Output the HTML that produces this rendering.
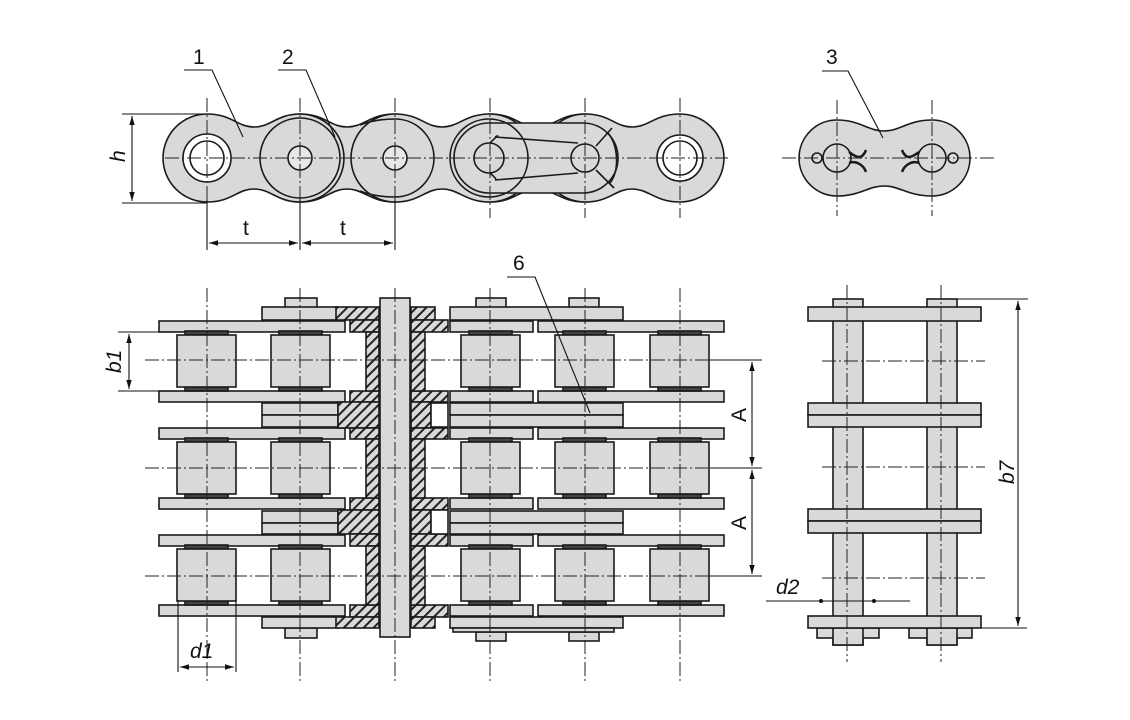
<!DOCTYPE html>
<html><head><meta charset="utf-8"><style>
html,body{margin:0;padding:0;background:#fff;width:1130px;height:720px;overflow:hidden}
svg{display:block}
text{font-family:"Liberation Sans",sans-serif;fill:#111}
</style></head><body>
<svg width="1130" height="720" viewBox="0 0 1130 720" xmlns="http://www.w3.org/2000/svg">
<defs>
<pattern id="h" width="7" height="7" patternUnits="userSpaceOnUse" patternTransform="rotate(45)">
<rect width="7" height="7" fill="#d9d9d9"/><rect width="2" height="7" fill="#222"/></pattern>
<marker id="ar" viewBox="0 0 10 10" refX="10" refY="5" markerWidth="9" markerHeight="9" orient="auto-start-reverse" markerUnits="userSpaceOnUse"><path d="M0,2 L10,5 L0,8 Z" fill="#111"/></marker>
</defs>
<g stroke="#1a1a1a" stroke-width="1.6" fill="#d9d9d9">
<!-- TOP VIEW LINKS -->
<path d="M300,114 C325,114 330,127 347,127 C364,127 370,114 395,114 A44,44 0 0 1 395,202 C370,202 364,189 347,189 C330,189 325,202 300,202 A44,44 0 0 1 300,114 Z"/>
<path d="M490,114 C515,114 520,127 537,127 C554,127 560,114 585,114 A44,44 0 0 1 585,202 C560,202 554,189 537,189 C520,189 515,202 490,202 A44,44 0 0 1 490,114 Z"/>
<path d="M207,114 C232,114 237,127 254,127 C271,127 277,114 300,114 A44,44 0 0 1 300,202 C277,202 271,189 254,189 C237,189 232,202 207,202 A44,44 0 0 1 207,114 Z"/>
<path d="M395,114 C420,114 425,127 442,127 C459,127 465,114 490,114 A44,44 0 0 1 490,202 C465,202 459,189 442,189 C425,189 420,202 395,202 A44,44 0 0 1 395,114 Z"/>
<path d="M585,114 C610,114 615,127 632,127 C649,127 655,114 680,114 A44,44 0 0 1 680,202 C655,202 649,189 632,189 C615,189 610,202 585,202 A44,44 0 0 1 585,114 Z"/>
<circle cx="300" cy="158" r="40"/>
<path d="M360,125 C370,121 380,119 395,119 A39,39 0 0 1 395,197 C380,197 370,195 360,191" fill="none"/>
<path d="M489,123 L583,123 A35,35 0 0 1 583,193 L489,193 A35,35 0 0 1 489,123 Z"/>
<circle cx="489" cy="158" r="39" fill="none"/>
<path d="M495,137 L578,143 M495,180 L578,173 M490,143 C500,133 498,136 495,137 M490,173 C498,180 496,180 495,180" fill="none"/>
<path d="M596,146 L612,128 M596,170 L614,188 M608,133 C618,145 620,170 610,183" fill="none"/>
<circle cx="207" cy="158" r="24" fill="#fff"/><circle cx="207" cy="158" r="17" fill="#fff"/>
<circle cx="680" cy="158" r="23" fill="#fff"/><circle cx="680" cy="158" r="17" fill="#fff"/>
<circle cx="300" cy="158" r="12" fill="#e8e8e8"/><circle cx="395" cy="158" r="12" fill="#e8e8e8"/>
<circle cx="489" cy="158" r="15"/><circle cx="585" cy="158" r="14"/>
<!-- TOP RIGHT -->
<path d="M837,120 C860,120 868,131 884,131 C900,131 908,120 932,120 A38,38 0 0 1 932,196 C908,196 900,186 884,186 C868,186 860,196 837,196 A38,38 0 0 1 837,120 Z"/>
<circle cx="837" cy="158" r="14"/><circle cx="932" cy="158" r="14"/>
<circle cx="817" cy="158" r="5"/><circle cx="953" cy="158" r="5"/>
<path d="M849,152 C857,158 862,160 866,150 M849,163 C857,160 864,166 866,172 M919,152 C911,158 906,160 902,150 M919,163 C911,160 904,166 902,172" fill="none" stroke-width="2.5"/>
</g>
<!-- BOTTOM LEFT VIEW -->
<g stroke="#1a1a1a" stroke-width="1.6" fill="#d9d9d9">
<!-- pin heads -->
<rect x="285" y="298" width="32" height="10"/><rect x="476" y="298" width="30" height="10"/><rect x="569" y="298" width="30" height="10"/>
<rect x="285" y="628" width="32" height="10"/><rect x="476" y="632" width="30" height="9"/><rect x="569" y="632" width="30" height="9"/>
<!-- inner plates -->
<rect x="262" y="307" width="76" height="13"/><rect x="450" y="307" width="173" height="13"/>
<rect x="262" y="403" width="76" height="12"/><rect x="262" y="415" width="76" height="12"/>
<rect x="450" y="403" width="173" height="12"/><rect x="450" y="415" width="173" height="12"/>
<rect x="262" y="511" width="76" height="12"/><rect x="262" y="523" width="76" height="11"/>
<rect x="450" y="511" width="173" height="12"/><rect x="450" y="523" width="173" height="11"/>
<rect x="262" y="617" width="76" height="11"/><rect x="450" y="617" width="173" height="11"/><rect x="453" y="628" width="161" height="4"/>
<!-- outer plates rows -->
<g id="pr">
<rect x="159" y="321" width="186" height="11"/><rect x="450" y="321" width="83" height="11"/><rect x="538" y="321" width="186" height="11"/>
</g>
<use href="#pr" y="70"/><use href="#pr" y="107"/><use href="#pr" y="177"/><use href="#pr" y="214"/><use href="#pr" y="284"/>
<!-- rollers -->
<g id="rr">
<rect x="185" y="331" width="43" height="4" fill="#444"/><rect x="185" y="387" width="43" height="4" fill="#444"/><rect x="177" y="335" width="59" height="52"/>
<rect x="279" y="331" width="43" height="4" fill="#444"/><rect x="279" y="387" width="43" height="4" fill="#444"/><rect x="271" y="335" width="59" height="52"/>
<rect x="469" y="331" width="43" height="4" fill="#444"/><rect x="469" y="387" width="43" height="4" fill="#444"/><rect x="461" y="335" width="59" height="52"/>
<rect x="563" y="331" width="43" height="4" fill="#444"/><rect x="563" y="387" width="43" height="4" fill="#444"/><rect x="555" y="335" width="59" height="52"/>
<rect x="658" y="331" width="43" height="4" fill="#444"/><rect x="658" y="387" width="43" height="4" fill="#444"/><rect x="650" y="335" width="59" height="52"/>
</g>
<use href="#rr" y="107"/><use href="#rr" y="214"/>
<!-- hatched sections -->
<g fill="url(#h)">
<rect x="336" y="307" width="43" height="13"/><rect x="350" y="320" width="29" height="12"/>
<rect x="411" y="307" width="24" height="13"/><rect x="411" y="320" width="37" height="12"/>
<rect x="350" y="391" width="29" height="11"/><rect x="338" y="402" width="41" height="26"/><rect x="350" y="428" width="29" height="11"/>
<rect x="411" y="391" width="37" height="11"/><rect x="411" y="402" width="20" height="26"/><rect x="411" y="428" width="37" height="11"/>
<rect x="350" y="498" width="29" height="12"/><rect x="338" y="510" width="41" height="24"/><rect x="350" y="534" width="29" height="12"/>
<rect x="411" y="498" width="37" height="12"/><rect x="411" y="510" width="20" height="24"/><rect x="411" y="534" width="37" height="12"/>
<rect x="350" y="605" width="29" height="12"/><rect x="336" y="617" width="43" height="11"/>
<rect x="411" y="605" width="37" height="12"/><rect x="411" y="617" width="24" height="11"/>
<rect x="366" y="332" width="13" height="59"/><rect x="411" y="332" width="14" height="59"/>
<rect x="366" y="439" width="13" height="59"/><rect x="411" y="439" width="14" height="59"/>
<rect x="366" y="546" width="13" height="59"/><rect x="411" y="546" width="14" height="59"/>
</g>
<rect x="431" y="403" width="17" height="24" fill="#fff"/><rect x="431" y="510" width="17" height="24" fill="#fff"/>
<!-- main pin -->
<rect x="380" y="298" width="30" height="339"/>
<!-- side view -->
<rect x="833" y="299" width="30" height="346"/><rect x="927" y="299" width="30" height="346"/>
<rect x="808" y="307" width="173" height="14"/>
<rect x="808" y="403" width="173" height="12"/><rect x="808" y="415" width="173" height="12"/>
<rect x="808" y="509" width="173" height="12"/><rect x="808" y="521" width="173" height="12"/>
<rect x="817" y="628" width="62" height="10"/><rect x="909" y="628" width="63" height="10"/>
<rect x="833" y="628" width="30" height="17"/><rect x="927" y="628" width="30" height="17"/>
<rect x="808" y="616" width="173" height="12"/>
</g>
<!-- centerlines -->
<g stroke="#222" stroke-width="1" stroke-dasharray="14 3 2 3" fill="none">
<path d="M165,158 H728 M782,158 H995 M837,100 V216 M932,100 V216"/>
<path d="M207,98 V218 M300,98 V218 M395,98 V218 M490,98 V218 M585,98 V218 M680,98 V218"/>
<path d="M145,360 H715 M145,468 H715 M145,576 H715"/>
<path d="M207,288 V682 M300,288 V682 M395,288 V682 M490,288 V682 M585,288 V682 M680,288 V682"/>
<path d="M822,361 H985 M822,467 H985 M822,578 H985 M847,285 V662 M941,285 V662"/>
</g>
<!-- dimensions & leaders -->
<g stroke="#111" stroke-width="1.1" fill="none">
<path d="M122,114 H207 M122,203 H207"/>
<path d="M132,116 V201" marker-start="url(#ar)" marker-end="url(#ar)"/>
<path d="M207,200 V250 M300,200 V250 M395,200 V250"/>
<path d="M209,243 H298" marker-start="url(#ar)" marker-end="url(#ar)"/>
<path d="M302,243 H393" marker-start="url(#ar)" marker-end="url(#ar)"/>
<path d="M184,70 H212 L243,137 M278,70 H306 L335,137 M822,71 H848 L883,138 M507,277 H535 L590,413"/>
<path d="M118,332 H177 M118,391 H177"/>
<path d="M129,334 V389" marker-start="url(#ar)" marker-end="url(#ar)"/>
<path d="M178,600 V672 M236,600 V672"/>
<path d="M180,667 H234" marker-start="url(#ar)" marker-end="url(#ar)"/>
<path d="M710,360 H762 M710,468 H762 M710,576 H762"/>
<path d="M752,362 V466" marker-start="url(#ar)" marker-end="url(#ar)"/>
<path d="M752,470 V574" marker-start="url(#ar)" marker-end="url(#ar)"/>
<path d="M957,299 H1028 M981,628 H1027"/>
<path d="M1018,301 V626" marker-start="url(#ar)" marker-end="url(#ar)"/>
<path d="M766,601 H910"/>
</g>
<circle cx="821" cy="601" r="2" fill="#111"/><circle cx="874" cy="601" r="2" fill="#111"/>
<g font-size="21">
<text x="193" y="64">1</text><text x="282" y="64">2</text><text x="826" y="64">3</text><text x="513" y="270">6</text>
<text x="243" y="235">t</text><text x="340" y="235">t</text>
<text x="190" y="658" font-style="italic">d1</text>
<text x="776" y="594" font-style="italic">d2</text>
<text transform="translate(125,162) rotate(-90)" font-style="italic">h</text>
<text transform="translate(121,373) rotate(-90)" font-style="italic">b1</text>
<text transform="translate(746,422) rotate(-90)">A</text>
<text transform="translate(746,530) rotate(-90)">A</text>
<text transform="translate(1014,484) rotate(-90)" font-style="italic">b7</text>
</g>
</svg>
</body></html>
